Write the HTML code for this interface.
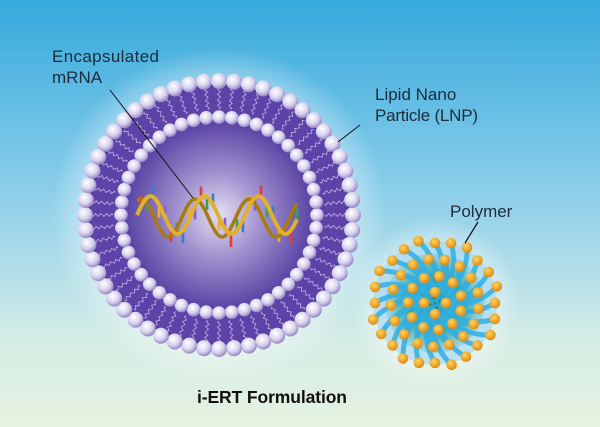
<!DOCTYPE html>
<html><head><meta charset="utf-8"><style>
html,body{margin:0;padding:0;width:600px;height:427px;overflow:hidden}
svg{display:block}
text{font-family:"Liberation Sans","DejaVu Sans",sans-serif}
</style></head><body>
<svg id="s" width="600" height="427" viewBox="0 0 600 427" xmlns="http://www.w3.org/2000/svg">
<defs>
<linearGradient id="bg" x1="0" y1="0" x2="0" y2="1">
<stop offset="0" stop-color="#35a9dd"/><stop offset="0.45" stop-color="#8cceea"/><stop offset="0.8" stop-color="#d6ede6"/><stop offset="1" stop-color="#e6f2e0"/>
</linearGradient>
<radialGradient id="halo"><stop offset="0.7" stop-color="#ffffff" stop-opacity="0.55"/><stop offset="1" stop-color="#ffffff" stop-opacity="0"/></radialGradient>
<radialGradient id="core"><stop offset="0" stop-color="#e4e0f2"/><stop offset="0.45" stop-color="#a293cf"/><stop offset="1" stop-color="#5c46a6"/></radialGradient>
<radialGradient id="ball" cx="0.4" cy="0.35" r="0.65"><stop offset="0" stop-color="#ffffff"/><stop offset="0.6" stop-color="#d8d2ee"/><stop offset="1" stop-color="#9587c4"/></radialGradient>
<radialGradient id="pcore"><stop offset="0" stop-color="#1a7a50"/><stop offset="0.5" stop-color="#24a08a"/><stop offset="1" stop-color="#7ec8e8" stop-opacity="0.5"/></radialGradient>
<radialGradient id="gold" cx="0.4" cy="0.35" r="0.65"><stop offset="0" stop-color="#ffd560"/><stop offset="1" stop-color="#e08a10"/></radialGradient>
</defs>
<rect width="600" height="427" fill="url(#bg)"/>
<circle cx="219" cy="215" r="168" fill="url(#halo)"/>
<circle cx="435" cy="303" r="85" fill="url(#halo)" opacity="0.7"/>
<circle cx="219" cy="215" r="136" fill="#4c3698"/>
<circle cx="219" cy="215" r="128" fill="#5d43a8"/>
<g id="lnp"></g>
<g id="pol"></g>
<line x1="110" y1="90" x2="193" y2="198" stroke="#111" stroke-width="1"/>
<line x1="360" y1="125" x2="338" y2="142" stroke="#111" stroke-width="1"/>
<line x1="478" y1="222" x2="465" y2="243" stroke="#111" stroke-width="1.2"/>
<g fill="#1c2c3a" font-size="17">
<text x="52" y="62" textLength="107">Encapsulated</text>
<text x="52" y="83">mRNA</text>
<text x="375" y="100">Lipid Nano</text>
<text x="375" y="121" textLength="103">Particle (LNP)</text>
<text x="450" y="217">Polymer</text>
</g>
<text x="272" y="403" text-anchor="middle" font-size="17.5" font-weight="bold" fill="#111" textLength="150">i-ERT Formulation</text>
</svg>
<script>
var NS="http://www.w3.org/2000/svg";
function el(p,t,a){var e=document.createElementNS(NS,t);for(var k in a)e.setAttribute(k,a[k]);p.appendChild(e);return e;}
var g=document.getElementById('lnp'),cx=219,cy=215,i,a;
for(i=0;i<60;i++){a=i/60*Math.PI*2;var c=Math.cos(a),s=Math.sin(a);
 for(var j=0;j<2;j++){var r0=j?106:117,d="";for(var t=0;t<=8;t++){var r=r0+t*1.3,w=Math.sin(t*1.6)*1.5;d+=(t?"L":"M")+(cx+c*r-s*w).toFixed(1)+" "+(cy+s*r+c*w).toFixed(1);}
 el(g,'path',{d:d,stroke:'#d9d0f3','stroke-width':0.8,fill:'none',opacity:0.8});}}
el(g,'circle',{cx:cx,cy:cy,r:92,fill:'url(#core)'});
for(i=0;i<48;i++){a=i/48*Math.PI*2;el(g,'circle',{cx:cx+Math.cos(a)*98,cy:cy+Math.sin(a)*98,r:6.8,fill:'url(#ball)'});}
for(i=0;i<56;i++){a=i/56*Math.PI*2;el(g,'circle',{cx:cx+Math.cos(a)*134,cy:cy+Math.sin(a)*134,r:8,fill:'url(#ball)'});}
var x0=137,x1=298,d1="",d2="";
for(var x=x0;x<=x1;x+=2){var ph=(x-x0)/54*Math.PI*2;d1+=(x==x0?"M":"L")+x+" "+(215-Math.sin(ph)*19).toFixed(1);d2+=(x==x0?"M":"L")+x+" "+(218-Math.sin(ph+1.1)*19).toFixed(1);}
var cols=['#e23b3b','#3aa04a','#3a7ad0','#f0b020','#8a5ad0'];
for(var x=x0+4,k=0;x<x1;x+=6,k++){var ph=(x-x0)/54*Math.PI*2;var y=215-Math.sin(ph)*19;el(g,'line',{x1:x,y1:y,x2:x,y2:y+((k%2)?13:-11),stroke:cols[k%5],'stroke-width':2.6});}
el(g,'path',{d:d2,stroke:'#a87a10','stroke-width':3.5,fill:'none'});
el(g,'path',{d:d1,stroke:'#e0b030','stroke-width':4,fill:'none'});
var p=document.getElementById('pol'),px=435,py=303;
el(p,'circle',{cx:px,cy:py,r:62,fill:'#9cd6ee',opacity:0.6});
el(p,'circle',{cx:px,cy:py,r:50,fill:'url(#pcore)'});
var pts=[];
for(i=0;i<24;i++){a=i/24*Math.PI*2;pts.push([62+(i%3)*2-2,a,0.4]);}
for(i=0;i<17;i++){a=i/17*Math.PI*2+0.13;pts.push([44,a,0.5]);}
for(i=0;i<11;i++){a=i/11*Math.PI*2+0.3;pts.push([27,a,0.6]);}
for(i=0;i<4;i++){a=i/4*Math.PI*2;pts.push([11,a,0.6]);}
pts.forEach(function(q){var r=q[0],a=q[1],bx=px+Math.cos(a)*r,by=py+Math.sin(a)*r,ax=px+Math.cos(a+q[2])*(r*0.3),ay=py+Math.sin(a+q[2])*(r*0.3);
 el(p,'path',{d:'M'+ax+' '+ay+' Q'+(px+Math.cos(a+0.3)*r*0.7)+' '+(py+Math.sin(a+0.3)*r*0.7)+' '+bx+' '+by,stroke:'#33aee0','stroke-width':5,fill:'none','stroke-linecap':'round',opacity:0.85});});
pts.forEach(function(q){var r=q[0],a=q[1];el(p,'circle',{cx:px+Math.cos(a)*r,cy:py+Math.sin(a)*r,r:5.3,fill:'url(#gold)'});});
</script>
</body></html>
